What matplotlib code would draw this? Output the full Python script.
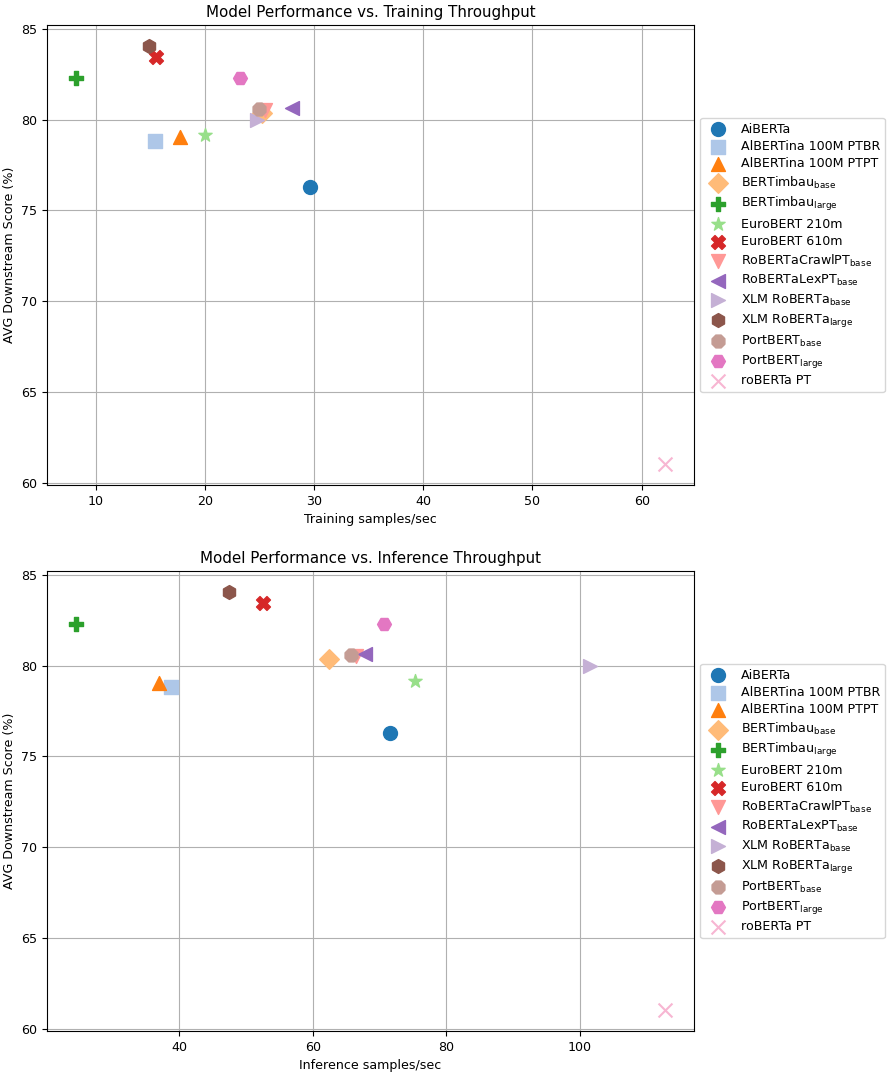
import matplotlib
matplotlib.use("Agg")
import matplotlib.pyplot as plt

plt.rcParams["font.size"] = 9.06

models = [
    "AiBERTa",
    "AlBERTina 100M PTBR",
    "AlBERTina 100M PTPT",
    r"BERTimbau$_{\mathrm{base}}$",
    r"BERTimbau$_{\mathrm{large}}$",
    "EuroBERT 210m",
    "EuroBERT 610m",
    r"RoBERTaCrawlPT$_{\mathrm{base}}$",
    r"RoBERTaLexPT$_{\mathrm{base}}$",
    r"XLM RoBERTa$_{\mathrm{base}}$",
    r"XLM RoBERTa$_{\mathrm{large}}$",
    r"PortBERT$_{\mathrm{base}}$",
    r"PortBERT$_{\mathrm{large}}$",
    "roBERTa PT",
]
avg_score = [76.3, 78.8, 79.05, 80.35, 82.3, 79.15, 83.45, 80.5, 80.65, 80.0, 84.05, 80.6, 82.3, 61.05]
train_throughput = [29.6, 15.4, 17.7, 25.2, 8.25, 20.0, 15.55, 25.5, 28.0, 24.8, 14.85, 25.0, 23.25, 62.1]
infer_throughput = [71.5, 38.8, 37.0, 62.5, 24.6, 75.3, 52.5, 66.5, 67.8, 101.5, 47.4, 65.8, 70.6, 112.7]

markers = ["o", "s", "^", "D", "P", "*", "X", "v", "<", ">", "h", "8", "H", "x"]
colors = plt.get_cmap("tab20").colors

fig = plt.figure(figsize=(8.92, 10.76), dpi=100)
ax1 = fig.add_axes([0.0527, 0.5493, 0.7253, 0.4275])
ax2 = fig.add_axes([0.0527, 0.0418, 0.7253, 0.4275])

for ax, xs, title, xlabel in [
    (ax1, train_throughput, "Model Performance vs. Training Throughput", "Training samples/sec"),
    (ax2, infer_throughput, "Model Performance vs. Inference Throughput", "Inference samples/sec"),
]:
    for i, name in enumerate(models):
        ax.scatter(xs[i], avg_score[i], marker=markers[i], color=colors[i], s=100, label=name, zorder=3)
    ax.set_title(title)
    ax.set_xlabel(xlabel)
    ax.set_ylabel("AVG Downstream Score (%)")
    ax.grid(True, zorder=0)
    ax.legend(loc="center left", bbox_to_anchor=(1.0, 0.5), labelspacing=0.35)

fig.savefig("out.png", dpi=100)
